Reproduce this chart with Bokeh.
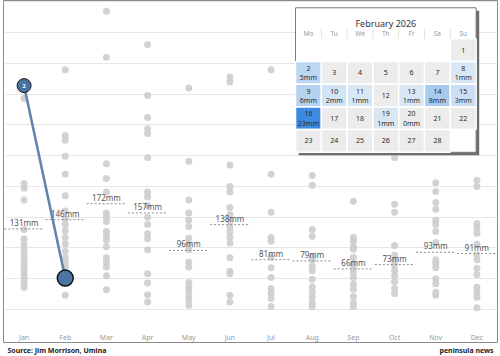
from bokeh.plotting import figure
from bokeh.models import Range1d, FixedTicker
from bokeh.layouts import column
from bokeh.embed import file_html
from bokeh.resources import INLINE
from bokeh.core.properties import value

# ---------------- data ----------------
months = ["Jan", "Feb", "Mar", "Apr", "May", "Jun", "Jul", "Aug", "Sep", "Oct", "Nov", "Dec"]

jan = [343, 205, 197, 178, 130, 115, 107, 99, 91, 83, 75, 68, 62, 55, 49, 42, 36]
feb = [390, 283, 275, 249, 220, 185, 160, 147, 138, 128, 117, 107, 95, 85, 77, 69, 23]
mar = [485, 410, 237, 213, 191, 157, 150, 143, 127, 120, 113, 102, 84, 77, 69, 55, 32]
apr = [431, 348, 312, 294, 286, 247, 191, 183, 169, 150, 138, 123, 115, 97, 58, 43, 24, 12]
may = [360, 241, 178, 157, 145, 135, 116, 107, 97, 77, 69, 44, 36, 30, 22, 15, 7]
jun = [378, 370, 235, 200, 191, 166, 154, 144, 135, 127, 118, 108, 84, 62, 58, 23, 12]
jul = [390, 220, 158, 117, 111, 85, 68, 52, 34, 26, 18, 5]
aug = [218, 202, 130, 119, 85, 80, 70, 63, 49, 37, 28, 20, 11, 5]
sep = [176, 117, 111, 102, 98, 85, 75, 68, 60, 52, 41, 33, 21, 11, 5]
oct_ = [247, 171, 158, 104, 88, 80, 72, 63, 55, 45, 34, 26]
nov = [206, 192, 174, 163, 145, 138, 127, 109, 81, 75, 68, 50, 42, 28, 23]
dec = [210, 200, 140, 133, 124, 106, 89, 81, 67, 57, 36, 28, 20, 3]
monthly_values = [jan, feb, mar, apr, may, jun, jul, aug, sep, oct_, nov, dec]

monthly_means = [131, 146, 172, 157, 96, 138, 81, 79, 66, 73, 93, 91]

jan_2026 = 364
highlight_label = "2"

cal_title = "February 2026"
weekday_names = ["Mo", "Tu", "We", "Th", "Fr", "Sa", "Su"]
feb_days = list(range(1, 29))
feb_first_weekday = 6  # Sunday
rain_days = [2, 8, 9, 10, 11, 13, 14, 15, 16, 19, 20]
rain_mm = [5, 1, 6, 2, 1, 1, 8, 3, 23, 1, 0]

grid_ticks = [0, 50, 100, 150, 200, 250, 300, 350, 400, 450, 500]

source_text = "Source: Jim Morrison, Umina"
brand_text = "peninsula news"

FONT = value("Noto Sans")

# ---------------- main figure ----------------
p = figure(width=500, height=343,
           x_range=Range1d(-0.5, 11.5), y_range=Range1d(-55.3, 502.4),
           output_backend="svg", toolbar_location=None,
           min_border_left=3, min_border_right=3, min_border_top=0, min_border_bottom=0)
p.background_fill_color = "white"
p.border_fill_color = "white"
p.outline_line_color = "#8a8a8a"
p.outline_line_width = 1

p.yaxis.visible = False
p.xgrid.visible = False
p.ygrid.ticker = FixedTicker(ticks=grid_ticks)
p.ygrid.grid_line_color = "#e6e6e6"
p.ygrid.grid_line_width = 1

xa = p.xaxis[0]
xa.fixed_location = -26.0
xa.ticker = FixedTicker(ticks=list(range(len(months))))
xa.major_label_overrides = {i: m for i, m in enumerate(months)}
xa.axis_line_color = None
xa.major_tick_line_color = None
xa.minor_tick_line_color = None
xa.major_label_standoff = 2
xa.major_label_text_font_size = "7px"
xa.major_label_text_color = "#9a9a9a"
xa.major_label_text_font = "Noto Sans"

# strip dots
xs, ys = [], []
for i, vals in enumerate(monthly_values):
    for v in vals:
        xs.append(i)
        ys.append(v)
p.scatter(xs, ys, size=7, fill_color="#cdcdcd", fill_alpha=0.9, line_color=None)

# means
idx = list(range(len(months)))
p.segment(x0=[i - 0.48 for i in idx], x1=[i + 0.48 for i in idx],
          y0=monthly_means, y1=monthly_means,
          line_color="#8c8c8c", line_width=1, line_dash="2 2")
p.text(x=idx, y=monthly_means, text=[f"{m}mm" for m in monthly_means],
       text_align="center", text_baseline="bottom", y_offset=-1,
       text_font=FONT, text_font_size="8px", text_color="#555555")

# highlighted line (Jan -> Feb 2026)
feb_2026 = sum(rain_mm)
p.line(x=[0, 1], y=[jan_2026, feb_2026], line_color="#5f84ad", line_width=2.5)
p.scatter([0], [jan_2026], size=14, fill_color="#4a72a0", line_color="#1a1a1a", line_width=1)
p.text(x=[0], y=[jan_2026], text=[highlight_label], text_align="center", text_baseline="middle",
       text_font=FONT, text_font_size="6px", text_color="white", text_font_style="bold")
p.scatter([1], [feb_2026], size=16, fill_color="#4a76a6", line_color="#111111", line_width=1.5)

# ---------------- calendar (own coordinates: column / week row) ----------------
p.extra_x_ranges = {"calx": Range1d(-11.318, 7.829)}
p.extra_y_ranges = {"caly": Range1d(13.423, -1.687)}
CK = dict(x_range_name="calx", y_range_name="caly")

box_top = -1.366
n_rows = (feb_first_weekday + len(feb_days) + 6) // 7
p.quad(left=[0.12], right=[7.12], top=[box_top + 0.13], bottom=[n_rows + 0.13],
       fill_color="#555555", fill_alpha=0.85, line_color=None, **CK)
p.quad(left=[0], right=[7], top=[box_top], bottom=[n_rows],
       fill_color="white", line_color="#7a7a7a", line_width=1, **CK)

rain_lookup = dict(zip(rain_days, rain_mm))
mx = max(rain_mm)


def rain_color(mm):
    if mm is None or mm <= 0:
        return "#ececec"
    t = mm / mx
    c0 = (224, 235, 246)
    c1 = (61, 139, 224)
    r, g, b = (round(a + (b_ - a) * t) for a, b_ in zip(c0, c1))
    return f"#{r:02x}{g:02x}{b:02x}"


cx, cy, cc = [], [], []
num_x, num_y, num_t = [], [], []
mm_x, mm_y, mm_t = [], [], []
for d in feb_days:
    pos = feb_first_weekday + d - 1
    col, row = pos % 7, pos // 7
    mm = rain_lookup.get(d)
    cx.append(col + 0.5)
    cy.append(row + 0.5)
    cc.append(rain_color(mm))
    num_x.append(col + 0.5)
    num_t.append(str(d))
    if mm is None:
        num_y.append(row + 0.5)
    else:
        num_y.append(row + 0.3)
        mm_x.append(col + 0.5)
        mm_y.append(row + 0.72)
        mm_t.append(f"{mm}mm")

p.rect(x=cx, y=cy, width=1, height=1, fill_color=cc, line_color="white", line_width=1.5, **CK)

# header separators
p.segment(x0=[1, 2, 3, 4, 5, 6], x1=[1, 2, 3, 4, 5, 6],
          y0=[-0.42] * 6, y1=[0] * 6, line_color="#e2e2e2", line_width=1, **CK)

p.text(x=[3.5], y=[-0.68], text=[cal_title], text_align="center", text_baseline="middle",
       text_font=FONT, text_font_size="9px", text_color="#333333", **CK)
p.text(x=[c + 0.5 for c in range(7)], y=[-0.22] * 7, text=weekday_names,
       text_align="center", text_baseline="middle",
       text_font=FONT, text_font_size="6.5px", text_color="#9a9a9a", **CK)
p.text(x=num_x, y=num_y, text=num_t, text_align="center", text_baseline="middle",
       text_font=FONT, text_font_size="7px", text_color="#2a2a2a", **CK)
p.text(x=mm_x, y=mm_y, text=mm_t, text_align="center", text_baseline="middle",
       text_font=FONT, text_font_size="7px", text_color="#2a2a2a", **CK)

# ---------------- footer ----------------
f = figure(width=500, height=13, x_range=Range1d(0, 500), y_range=Range1d(0, 1),
           output_backend="svg", toolbar_location=None,
           min_border_left=0, min_border_right=0, min_border_top=0, min_border_bottom=0)
f.axis.visible = False
f.grid.visible = False
f.outline_line_color = None
f.background_fill_color = "white"
f.border_fill_color = "white"
f.text(x=[4], y=[0.5], text=[source_text], text_align="left", text_baseline="middle",
       text_font=FONT, text_font_size="7px", text_font_style="bold", text_color="#222222")
f.text(x=[496], y=[0.5], text=[brand_text], text_align="right", text_baseline="middle",
       text_font=FONT, text_font_size="7px", text_font_style="bold", text_color="#222222")

layout = column(p, f, spacing=0)
open("out.html", "w").write(file_html(layout, INLINE))
